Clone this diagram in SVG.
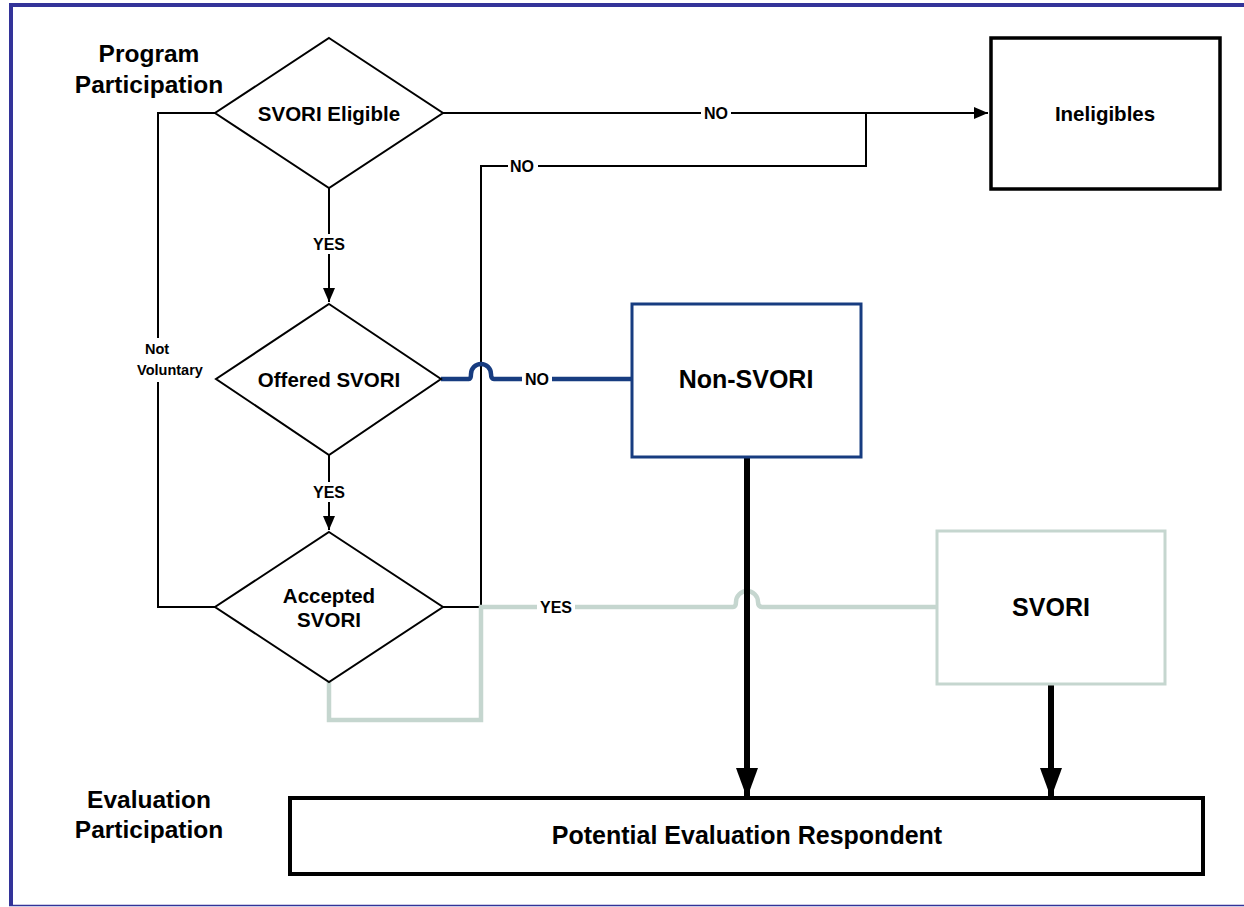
<svg xmlns="http://www.w3.org/2000/svg" width="1244" height="907" viewBox="0 0 1244 907">
<style>
text{font-family:"Liberation Sans",Arial,sans-serif;font-weight:bold;fill:#000;text-anchor:middle;dominant-baseline:central}
.dia{fill:#fff;stroke:#000;stroke-width:2}
.thin{fill:none;stroke:#000;stroke-width:2}
.lbl{font-size:16px}
.nv{font-size:14.5px}
.dt{font-size:20.5px}
.bt{font-size:25px}
.side{font-size:24.5px}
</style>
<defs>
<marker id="ah" markerWidth="14" markerHeight="12" refX="14" refY="6" orient="auto" markerUnits="userSpaceOnUse"><path d="M0,0 L14,6 L0,12 z" fill="#000"/></marker>
<marker id="ahb" markerWidth="30" markerHeight="22" refX="30" refY="11" orient="auto" markerUnits="userSpaceOnUse"><path d="M0,0 L30,11 L0,22 z" fill="#000"/></marker>
</defs>
<rect width="1244" height="907" fill="#fff"/>
<g id="frame" fill="none" stroke="#333399">
<line x1="9" y1="5" x2="1244" y2="5" stroke-width="4"/>
<line x1="11" y1="3" x2="11" y2="906" stroke-width="4"/>
<line x1="9" y1="905.5" x2="1244" y2="905.5" stroke-width="1.5"/>
</g>
<g id="headings">
<text class="side" x="149" y="53">Program</text>
<text class="side" x="149" y="84">Participation</text>
<text class="side" x="149" y="799">Evaluation</text>
<text class="side" x="149" y="829">Participation</text>
</g>
<g id="connectors">
<path class="thin" d="M443,113 H988" marker-end="url(#ah)"/>
<path class="thin" d="M443,607 H481 V166 H866 V113"/>
<path class="thin" d="M215,113 H158 V338 M158,382 V607 H215"/>
<path class="thin" d="M329,188 V302" marker-end="url(#ah)"/>
<path class="thin" d="M329,455 V530" marker-end="url(#ah)"/>
<path d="M441,379 H469 Q471,379 471,374 A10,10 0 0 1 491,374 Q491,379 494,379 H632" fill="none" stroke="#173c80" stroke-width="4.5"/>
<path d="M329,682 V720 H481 V607 H733 Q736,607 736,602 A11,11 0 0 1 758,602 Q758,607 762,607 H937" fill="none" stroke="#c5d6cf" stroke-width="4.5"/>
<path d="M747,457 V798" fill="none" stroke="#000" stroke-width="6" stroke-linecap="round" marker-end="url(#ahb)"/>
<path d="M1051,684 V798" fill="none" stroke="#000" stroke-width="6" stroke-linecap="round" marker-end="url(#ahb)"/>
<rect x="701" y="104" width="30" height="18" fill="#fff"/>
<text class="lbl" x="716" y="113">NO</text>
<rect x="508" y="157" width="30" height="18" fill="#fff"/>
<text class="lbl" x="522" y="166">NO</text>
<rect x="311" y="234" width="36" height="20" fill="#fff"/>
<text class="lbl" x="329" y="244">YES</text>
<rect x="311" y="482" width="36" height="20" fill="#fff"/>
<text class="lbl" x="329" y="492">YES</text>
<rect x="522" y="369" width="30" height="20" fill="#fff"/>
<text class="lbl" x="537" y="379">NO</text>
<rect x="537" y="597" width="38" height="20" fill="#fff"/>
<text class="lbl" x="556" y="607">YES</text>
<text class="nv" x="157" y="349">Not</text>
<text class="nv" x="170" y="370">Voluntary</text>
</g>
<g id="svori-eligible">
<polygon class="dia" points="329,38 443,113 329,188 215,113"/>
<text class="dt" x="329" y="113">SVORI Eligible</text>
</g>
<g id="offered-svori">
<polygon class="dia" points="329,304 441,379 329,455 216,379"/>
<text class="dt" x="329" y="379">Offered SVORI</text>
</g>
<g id="accepted-svori">
<polygon class="dia" points="329,532 443,607 329,682 215,607"/>
<text class="dt" x="329" y="595">Accepted</text>
<text class="dt" x="329" y="619">SVORI</text>
</g>
<g id="ineligibles">
<rect x="991" y="38" width="229" height="151" fill="#fff" stroke="#000" stroke-width="3.5"/>
<text class="dt" x="1105" y="113">Ineligibles</text>
</g>
<g id="non-svori">
<rect x="632" y="304" width="229" height="153" fill="#fff" stroke="#173c80" stroke-width="3"/>
<text class="bt" x="746" y="379">Non-SVORI</text>
</g>
<g id="svori">
<rect x="937" y="531" width="228" height="153" fill="#fff" stroke="#c5d6cf" stroke-width="3"/>
<text class="bt" x="1051" y="607">SVORI</text>
</g>
<g id="respondent">
<rect x="290" y="798" width="913" height="76" fill="#fff" stroke="#000" stroke-width="4"/>
<text class="bt" x="747" y="835">Potential Evaluation Respondent</text>
</g>
</svg>
